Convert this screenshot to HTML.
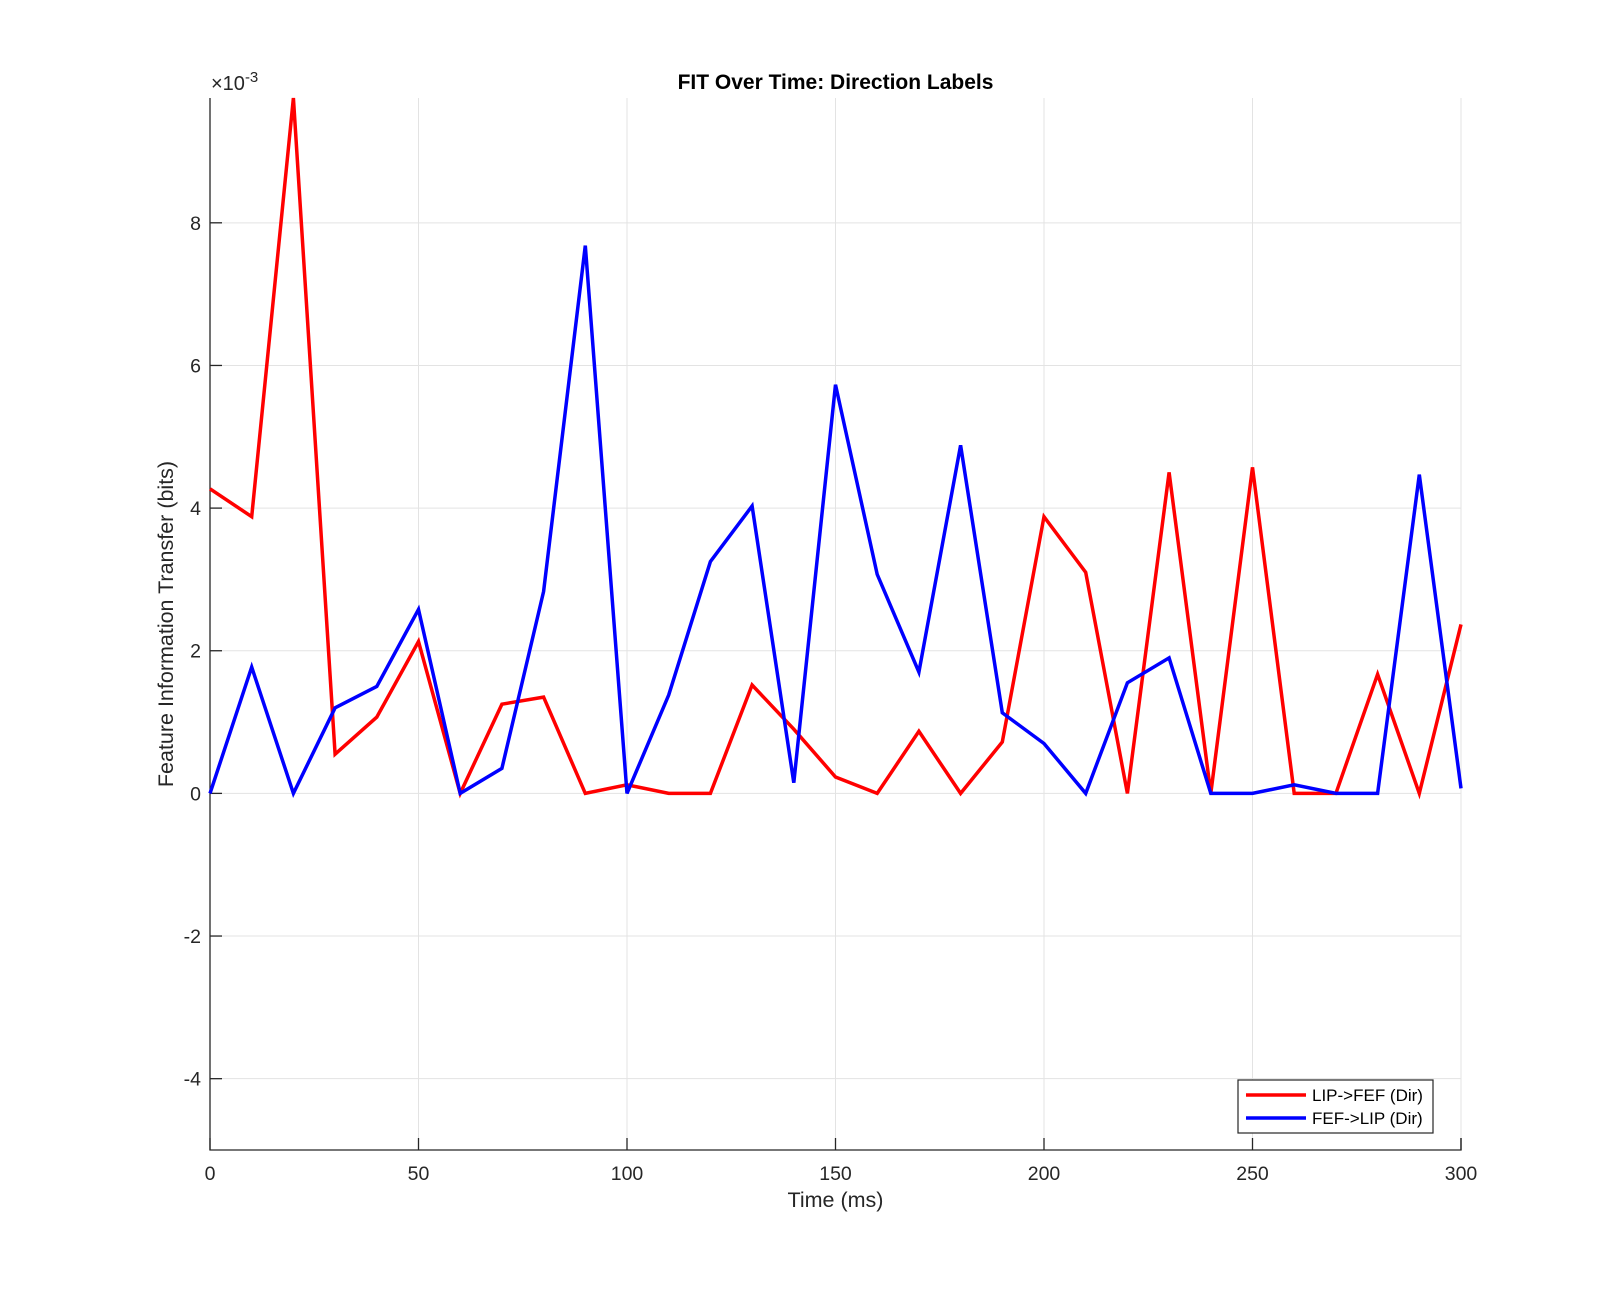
<!DOCTYPE html>
<html><head><meta charset="utf-8"><style>
html,body{margin:0;padding:0;background:#fff;}
svg{display:block;font-family:"Liberation Sans",sans-serif;}
</style></head><body>
<svg id="chart" width="1614" height="1292"></svg>
<script>
const xTicks=[0,50,100,150,200,250,300];
const yTicks=[-4,-2,0,2,4,6,8];
const times=[0,10,20,30,40,50,60,70,80,90,100,110,120,130,140,150,160,170,180,190,200,210,220,230,240,250,260,270,280,290,300];
const lipToFef=[4.27,3.88,9.75,0.55,1.07,2.13,0,1.25,1.35,0,0.12,0,0,1.52,0.9,0.23,0,0.87,0,0.72,3.88,3.1,0,4.5,0,4.57,0,0,1.67,0,2.37];
const fefToLip=[0,1.77,0,1.2,1.5,2.58,0,0.35,2.83,7.68,0,1.38,3.25,4.03,0.15,5.73,3.07,1.7,4.88,1.13,0.7,0,1.55,1.9,0,0,0.12,0,0,4.47,0.07];
const L=210,R=1461,T=98,B=1150,yMin=-5,yMax=9.75,xMin=0,xMax=300;
const sx=v=>L+(v-xMin)/(xMax-xMin)*(R-L);
const sy=v=>B-(v-yMin)/(yMax-yMin)*(B-T);
const svg=document.getElementById('chart');
const NS='http://www.w3.org/2000/svg';
function mk(tag,attrs,text){const e=document.createElementNS(NS,tag);for(const k in attrs)e.setAttribute(k,attrs[k]);if(text!==undefined)e.textContent=text;svg.appendChild(e);return e;}
xTicks.forEach(t=>{const g=mk('line',{x1:sx(t),x2:sx(t),y1:T,y2:B,stroke:'#e3e3e3','stroke-width':1});


const tk=mk('line',{x1:sx(t),x2:sx(t),y1:B,y2:B-12,stroke:'#262626','stroke-width':1.3});


const lb=mk('text',{x:sx(t),y:B+30,'text-anchor':'middle','font-size':19.5,fill:'#262626'},String(t));

});
yTicks.forEach(t=>{const g=mk('line',{x1:L,x2:R,y1:sy(t),y2:sy(t),stroke:'#e3e3e3','stroke-width':1});


const tk=mk('line',{x1:L,x2:L+12,y1:sy(t),y2:sy(t),stroke:'#262626','stroke-width':1.3});


const lb=mk('text',{x:L-9,y:sy(t)+7,'text-anchor':'end','font-size':19.5,fill:'#262626'},String(t));

});
const ax=mk('path',{d:`M${L},${T}V${B}H${R}V${B-12}`,fill:'none',stroke:'#262626','stroke-width':1.3});


function series(vals,color,name){const d=vals.map((v,i)=>(i?'L':'M')+sx(times[i]).toFixed(1)+','+sy(v).toFixed(1)).join('');
const p=mk('path',{d:d,fill:'none',stroke:color,'stroke-width':3.5,'stroke-linejoin':'miter'});

}
series(lipToFef,'#ff0000','series-lip-to-fef');
series(fefToLip,'#0000ff','series-fef-to-lip');
const ex=mk('text',{x:L+1,y:T-8,'font-size':20,fill:'#262626'});


ex.innerHTML='×10<tspan dy="-8" font-size="15">-3</tspan>';
const ti=mk('text',{x:(L+R)/2,y:89,'text-anchor':'middle','font-size':21,'font-weight':'bold',fill:'#000'},'FIT Over Time: Direction Labels');


const xl=mk('text',{x:(L+R)/2,y:1207,'text-anchor':'middle','font-size':21.5,fill:'#262626'},'Time (ms)');


const yl=mk('text',{x:0,y:0,'text-anchor':'middle','font-size':21.5,fill:'#262626',transform:`translate(173,624) rotate(-90)`},'Feature Information Transfer (bits)');


const lg=mk('rect',{x:1238,y:1080,width:195,height:53,fill:'#fff',stroke:'#262626','stroke-width':1.2});


[['#ff0000','LIP->FEF (Dir)',1095],['#0000ff','FEF->LIP (Dir)',1118]].forEach(([c,t,y])=>{
const ln=mk('line',{x1:1246,x2:1306,y1:y,y2:y,stroke:c,'stroke-width':3.5});


const tx=mk('text',{x:1312,y:y+6,'font-size':17,fill:'#000'},t);

});
</script>
</body></html>
